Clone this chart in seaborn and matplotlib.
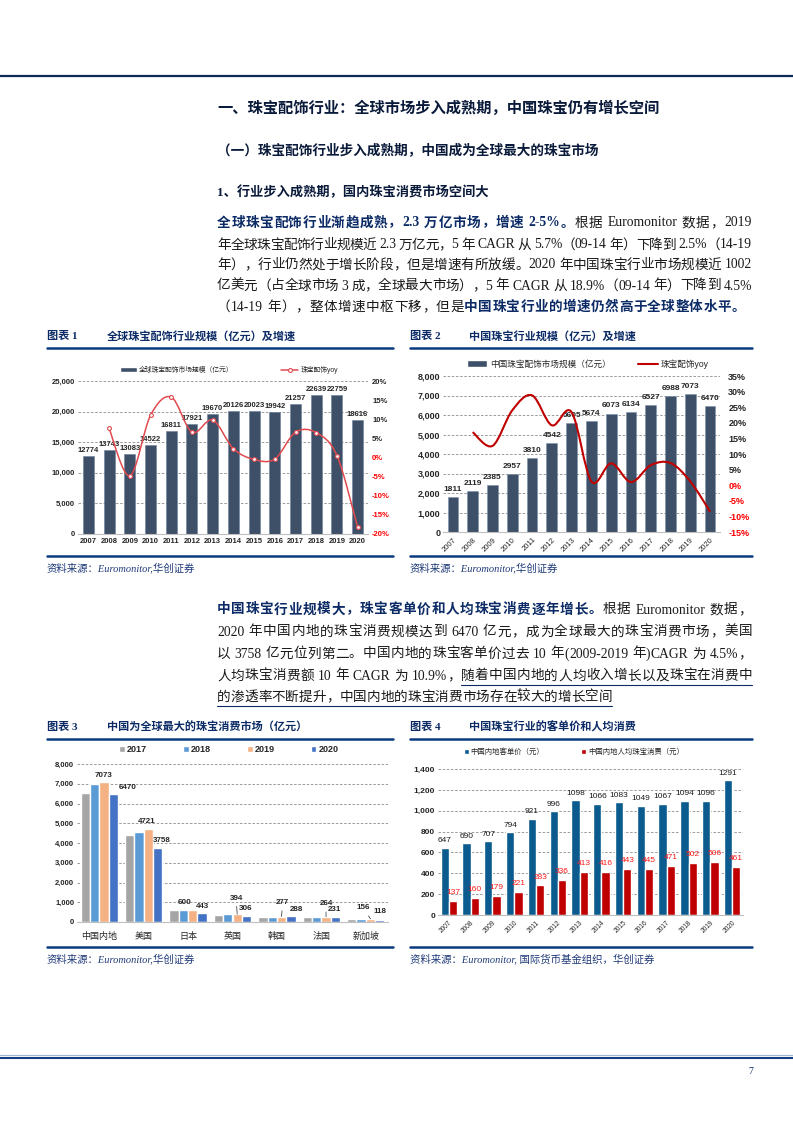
import re
import numpy as np
import pandas as pd
import matplotlib
matplotlib.use('Agg')
import matplotlib.pyplot as plt
import seaborn as sns
from matplotlib.path import Path
from matplotlib.patches import PathPatch, Patch
from matplotlib.lines import Line2D

# ---------------- data ----------------
years = ['2007', '2008', '2009', '2010', '2011', '2012', '2013', '2014',
         '2015', '2016', '2017', '2018', '2019', '2020']
global_size = [12774, 13743, 13083, 14522, 16811, 17921, 19670, 20126,
               20023, 19942, 21257, 22639, 22759, 18616]
global_yoy = [7.6, -4.8, 11.0, 15.8, 6.6, 9.8, 2.3, -0.5, -0.4, 6.6, 6.5, 0.5, -18.2]   # 2008-2020
china_size = [1811, 2119, 2385, 2957, 3810, 4542, 5605, 5674, 6073, 6134, 6527, 6988, 7073, 6470]
china_yoy = [17.0, 12.6, 24.0, 28.8, 19.2, 23.4, 1.2, 7.0, 1.0, 6.4, 7.1, 1.2, -8.5]   # 2008-2020

countries = ['中国内地', '美国', '日本', '英国', '韩国', '法国', '新加坡']
market_years = ['2017', '2018', '2019', '2020']
m2017 = [6527, 4430, 590, 360, 260, 262, 140]
m2018 = [6988, 4580, 600, 380, 270, 255, 150]
m2019 = [7073, 4721, 600, 394, 277, 264, 156]
m2020 = [6470, 3758, 443, 306, 288, 231, 118]

unit_price = [647, 690, 707, 794, 921, 996, 1098, 1066, 1083, 1049, 1067, 1094, 1096, 1291]
per_capita = [137, 160, 179, 221, 283, 336, 413, 416, 443, 445, 471, 502, 506, 461]

# ---------------- style ----------------
sns.set_style('white')
plt.rcParams['font.family'] = ['Liberation Sans', 'Noto Sans CJK SC']
plt.rcParams['axes.unicode_minus'] = False

NAVY = '#0c2b66'
RULE = '#0b3a7e'
SERIF = ['Liberation Serif', 'Noto Sans CJK SC']
BAR = '#3e5068'

W, H = 793, 1122
fig = plt.figure(figsize=(W / 100, H / 100), dpi=100)
renderer = fig.canvas.get_renderer()


def add_ax(x0, y0, x1, y1):
    return fig.add_axes([x0 / W, 1 - y1 / H, (x1 - x0) / W, (y1 - y0) / H])


def hline(x0, x1, y, color, lw):
    fig.add_artist(Line2D([x0 / W, x1 / W], [1 - y / H, 1 - y / H], color=color, lw=lw,
                          transform=fig.transFigure))


def put_line(x0, y, segs, width=None):
    # place text tokens one by one so the line can be justified
    objs = []
    bounds = []
    for s, kw in segs:
        start = len(objs)
        for tok in re.findall(r'[A-Za-z0-9.%\-]+|.', s):
            objs.append(fig.text(0, 1 - y / H, tok, va='center', ha='left', **kw))
        bounds.append((start, len(objs)))
    ws = [t.get_window_extent(renderer).width for t in objs]
    gap = 0
    if width is not None and len(objs) > 1:
        gap = (width - sum(ws)) / (len(objs) - 1)
    xs = []
    x = x0
    for t, w in zip(objs, ws):
        t.set_x(x / W)
        xs.append((x, x + w))
        x += w + gap
    return [(xs[a][0], xs[b - 1][1]) for a, b in bounds]


REG = dict(family=SERIF, fontsize=9.8, color='#1a1a1a')
BLD = dict(family=SERIF, fontsize=9.8, color=NAVY, weight='bold')

# ---------------- page furniture ----------------
hline(0, W, 76, '#0d2a57', 1.6)
hline(0, W, 1055, '#9db6d8', 0.8)
hline(0, W, 1057.5, '#123f80', 1.5)
fig.text(748 / W, 1 - 1071 / H, '7', fontsize=7, color=NAVY, family=SERIF, va='center')

fig.text(217 / W, 1 - 108 / H, '一、珠宝配饰行业：全球市场步入成熟期，中国珠宝仍有增长空间',
         fontsize=11, weight='bold', color='#0a1a3a', family=SERIF, va='center')
fig.text(217 / W, 1 - 151 / H, '（一）珠宝配饰行业步入成熟期，中国成为全球最大的珠宝市场',
         fontsize=9.8, weight='bold', color='#0a1a3a', family=SERIF, va='center')
fig.text(217 / W, 1 - 192 / H, '1、行业步入成熟期，国内珠宝消费市场空间大',
         fontsize=9.5, weight='bold', color='#0a1a3a', family=SERIF, va='center')

PW = 535
put_line(217, 223, [('全球珠宝配饰行业渐趋成熟，2.3 万亿市场，增速 2-5%。', BLD),
                    ('根据 Euromonitor 数据，2019', REG)], PW)
put_line(217, 245, [('年全球珠宝配饰行业规模近 2.3 万亿元，5 年 CAGR 从 5.7%（09-14 年）下降到 2.5%（14-19', REG)], PW)
put_line(217, 265, [('年），行业仍然处于增长阶段，但是增速有所放缓。2020 年中国珠宝行业市场规模近 1002', REG)], PW)
put_line(217, 286, [('亿美元（占全球市场 3 成，全球最大市场），5 年 CAGR 从 18.9%（09-14 年）下降到 4.5%', REG)], PW)
put_line(217, 307, [('（14-19 年），整体增速中枢下移，但是', REG),
                    ('中国珠宝行业的增速仍然高于全球整体水平。', BLD)], 528)

put_line(217, 610, [('中国珠宝行业规模大，珠宝客单价和人均珠宝消费逐年增长。', BLD),
                    ('根据 Euromonitor 数据，', REG)], PW)
put_line(217, 632, [('2020 年中国内地的珠宝消费规模达到 6470 亿元，成为全球最大的珠宝消费市场，美国', REG)], PW)
put_line(217, 654, [('以 3758 亿元位列第二。中国内地的珠宝客单价过去 10 年(2009-2019 年)CAGR 为 4.5%，', REG)], PW)
b4 = put_line(217, 676, [('人均珠宝消费额 10 年 CAGR 为 10.9%，', REG),
                         ('随着中国内地的人均收入增长以及珠宝在消费中', REG)], PW)
b5 = put_line(217, 697, [('的渗透率不断提升，中国内地的珠宝消费市场存在较大的增长空间', REG)])
hline(b4[1][0], b4[1][1], 685, NAVY, 0.8)
hline(b5[0][0], b5[0][1], 706, NAVY, 0.8)

# chart headers, rules and sources
HD = dict(fontsize=8, weight='bold', color=NAVY, family=SERIF, va='center')
SRC = dict(fontsize=7.5, style='italic', color='#1f3a78', family=SERIF, va='center')
for x0, x1, xt, ytop, ybot, num, title, src in [
        (47, 393, 107, 336, 556, '1', '全球珠宝配饰行业规模（亿元）及增速', '资料来源：Euromonitor,华创证券'),
        (410, 752, 469, 336, 556, '2', '中国珠宝行业规模（亿元）及增速', '资料来源：Euromonitor,华创证券'),
        (47, 393, 107, 727, 947, '3', '中国为全球最大的珠宝消费市场（亿元）', '资料来源：Euromonitor,华创证券'),
        (410, 752, 469, 727, 947, '4', '中国珠宝行业的客单价和人均消费', '资料来源：Euromonitor, 国际货币基金组织，华创证券')]:
    fig.text(x0 / W, 1 - ytop / H, '图表 ' + num, **HD)
    fig.text(xt / W, 1 - ytop / H, title, **HD)
    hline(x0, x1, ytop + 12, RULE, 1.8)
    hline(x0, x1, ybot, RULE, 1.8)
    fig.text(x0 / W, 1 - (ybot + 12) / H, src, **SRC)


def smooth_path(xs, ys):
    # Excel style smoothed line (Catmull-Rom as cubic bezier)
    n = len(xs)
    verts = [(xs[0], ys[0])]
    codes = [Path.MOVETO]
    for i in range(n - 1):
        p0 = (xs[i - 1], ys[i - 1]) if i > 0 else (xs[i], ys[i])
        p1 = (xs[i], ys[i])
        p2 = (xs[i + 1], ys[i + 1])
        p3 = (xs[i + 2], ys[i + 2]) if i + 2 < n else p2
        c1 = (p1[0] + (p2[0] - p0[0]) / 6, p1[1] + (p2[1] - p0[1]) / 6)
        c2 = (p2[0] - (p3[0] - p1[0]) / 6, p2[1] - (p3[1] - p1[1]) / 6)
        verts += [c1, c2, p2]
        codes += [Path.CURVE4] * 3
    return Path(verts, codes)


def style_ax(ax, ymax, step, fs):
    ticks = np.arange(0, ymax + 1, step)
    ax.set_ylim(0, ymax)
    ax.set_yticks(ticks)
    ax.set_yticklabels([f'{v:,.0f}' for v in ticks], fontsize=fs, weight='bold')
    ax.yaxis.grid(True, ls=(0, (3, 2)), color='#8c8c8c', lw=0.6)
    ax.xaxis.grid(False)
    ax.set_axisbelow(True)
    for s in ['left', 'right', 'top']:
        ax.spines[s].set_visible(False)
    ax.spines['bottom'].set_color('#bfbfbf')
    ax.spines['bottom'].set_linewidth(0.8)
    ax.tick_params(length=0, pad=2)
    ax.set_xlabel('')
    ax.set_ylabel('')


def style_pct(ax2, lo, hi, fs, pad):
    ticks = list(range(lo, hi + 1, 5))
    ax2.set_ylim(lo, hi)
    ax2.set_yticks(ticks)
    ax2.set_yticklabels([f'{v}%' for v in ticks], fontsize=fs, weight='bold')
    for lab, v in zip(ax2.get_yticklabels(), ticks):
        if v <= 0:
            lab.set_color('#ff0000')
    ax2.grid(False)
    for s in ax2.spines.values():
        s.set_visible(False)
    ax2.tick_params(length=0, pad=pad)
    ax2.set_ylabel('')


# ---------------- chart 1 ----------------
ax1 = add_ax(78, 381, 368, 534)
sns.barplot(x=years, y=global_size, color=BAR, saturation=1, width=0.53, ax=ax1,
            edgecolor='#6a7f99', linewidth=0.4)
style_ax(ax1, 25000, 5000, 5.5)
ax1.set_xticks(range(len(years)))
ax1.set_xticklabels(years, fontsize=5.5, weight='bold')
ax1.tick_params(axis='x', pad=3)
ax1.bar_label(ax1.containers[0], labels=[str(v) for v in global_size], fontsize=5.5,
              padding=1.5, weight='bold', color='#262626')
ax1.set_xlim(-0.5, len(years) - 0.5)
ax1b = ax1.twinx()
style_pct(ax1b, -20, 20, 5.5, 3)
xs1 = np.arange(1, len(years))
ax1b.add_patch(PathPatch(smooth_path(xs1, global_yoy), fill=False, ec='#e04a4f', lw=1.1))
ax1b.plot(xs1, global_yoy, ls='none', marker='o', ms=2.8, mfc='white', mec='#e04a4f', mew=0.8)
ax1b.set_xlim(-0.5, len(years) - 0.5)
h1 = [Patch(fc=BAR), Line2D([], [], color='#e04a4f', lw=1.1, marker='o', ms=2.8, mfc='white', mew=0.8)]
ax1.legend(h1, ['全球珠宝配饰市场规模（亿元）', '珠宝配饰yoy'], ncol=2, frameon=False,
           loc='center', bbox_to_anchor=(229 / W, 1 - 370 / H), bbox_transform=fig.transFigure,
           fontsize=4.9, handlelength=2.5, handleheight=0.8, handletextpad=0.3, columnspacing=7.0)

# ---------------- chart 2 ----------------
ax2 = add_ax(443, 376, 720, 532)
sns.barplot(x=years, y=china_size, color=BAR, saturation=1, width=0.54, ax=ax2,
            edgecolor='#7d93ad', linewidth=0.4)
style_ax(ax2, 8000, 1000, 6.5)
ax2.set_xticks(range(len(years)))
ax2.set_xticklabels(years, fontsize=5.5, rotation=45, ha='right', rotation_mode='anchor')
ax2.tick_params(axis='x', pad=3)
ax2.bar_label(ax2.containers[0], labels=[str(v) for v in china_size], fontsize=6,
              padding=3, weight='bold', color='#262626')
ax2.set_xlim(-0.5, len(years) - 0.5)
ax2b = ax2.twinx()
style_pct(ax2b, -15, 35, 6.5, 6)
ax2b.add_patch(PathPatch(smooth_path(xs1, china_yoy), fill=False, ec='#c00000', lw=1.5))
ax2b.set_xlim(-0.5, len(years) - 0.5)
h2 = [Patch(fc=BAR), Line2D([], [], color='#c00000', lw=1.5)]
ax2.legend(h2, ['中国珠宝配饰市场规模（亿元）', '珠宝配饰yoy'], ncol=2, frameon=False,
           loc='center', bbox_to_anchor=(588 / W, 1 - 364 / H), bbox_transform=fig.transFigure,
           fontsize=6.2, handlelength=2.3, handleheight=0.8, handletextpad=0.3, columnspacing=3.2)

# ---------------- chart 3 ----------------
df3 = pd.DataFrame({'country': countries * 4,
                    'year': [y for y in market_years for _ in countries],
                    'value': m2017 + m2018 + m2019 + m2020})
pal3 = ['#a5a5a5', '#5b9bd5', '#f4b183', '#4472c4']
ax3 = add_ax(77, 764, 388, 922)
sns.barplot(data=df3, x='country', y='value', hue='year', palette=pal3, saturation=1,
            width=0.84, ax=ax3, legend=False)
style_ax(ax3, 8000, 1000, 5.5)
ax3.set_xticks(range(len(countries)))
ax3.set_xticklabels(countries, fontsize=6.5)
ax3.tick_params(axis='x', pad=7)
ax3.set_xlim(-0.5, len(countries) - 0.5)
# label offsets (px) for 2019 and 2020 values
off19 = [(0, 7), (-2, 7), (-8, 8), (-1, 16), (1, 14), (0, 13), (-7, 11)]
off20 = [(14, 7), (4, 7), (0, 7), (-1, 7), (6, 7), (-1, 8), (0, 8)]
lead19 = [False, False, False, True, True, True, True]
for cont, vals, offs, leads in [(ax3.containers[2], m2019, off19, lead19),
                                (ax3.containers[3], m2020, off20, [False] * 7)]:
    for p, v, (dx, dy), ld in zip(cont.patches, vals, offs, leads):
        xc = p.get_x() + p.get_width() / 2
        ax3.annotate(str(v), xy=(xc, v), xytext=(dx * 0.72, dy * 0.72), textcoords='offset points',
                     ha='center', va='center', fontsize=5.8, weight='bold', color='#262626',
                     arrowprops=dict(arrowstyle='-', color='#262626', lw=0.5, shrinkA=1, shrinkB=0)
                     if ld else None)
h3 = [Patch(fc=c) for c in pal3]
ax3.legend(h3, market_years, ncol=4, frameon=False, loc='center',
           bbox_to_anchor=(229 / W, 1 - 750 / H), bbox_transform=fig.transFigure,
           prop=dict(size=6.5, weight='bold'), handlelength=0.6, handleheight=0.6,
           handletextpad=0.25, columnspacing=4.0)

# ---------------- chart 4 ----------------
df4 = pd.DataFrame({'year': years * 2,
                    'series': ['中国内地客单价（元）'] * len(years) + ['中国内地人均珠宝消费（元）'] * len(years),
                    'value': unit_price + per_capita})
pal4 = ['#0b5b8e', '#c00000']
ax4 = add_ax(438, 769, 743, 915)
sns.barplot(data=df4, x='year', y='value', hue='series', palette=pal4, saturation=1,
            width=0.76, ax=ax4, legend=False)
style_ax(ax4, 1400, 200, 6)
ax4.set_xticks(range(len(years)))
ax4.set_xticklabels(years, fontsize=4.8, rotation=45, ha='right', rotation_mode='anchor')
ax4.tick_params(axis='x', pad=3)
ax4.set_xlim(-0.5, len(years) - 0.5)
ax4.bar_label(ax4.containers[0], labels=[str(v) for v in unit_price], fontsize=6,
              padding=2.5, color='#1a1a1a')
ax4.bar_label(ax4.containers[1], labels=[str(v) for v in per_capita], fontsize=6,
              padding=3.5, color='#ff1a1a')
h4 = [Patch(fc=c) for c in pal4]
ax4.legend(h4, ['中国内地客单价（元）', '中国内地人均珠宝消费（元）'], ncol=2, frameon=False,
           loc='center', bbox_to_anchor=(574 / W, 1 - 752 / H), bbox_transform=fig.transFigure,
           fontsize=5.3, handlelength=0.7, handleheight=0.7, handletextpad=0.2, columnspacing=5.0)

fig.savefig('out.png', dpi=100)
